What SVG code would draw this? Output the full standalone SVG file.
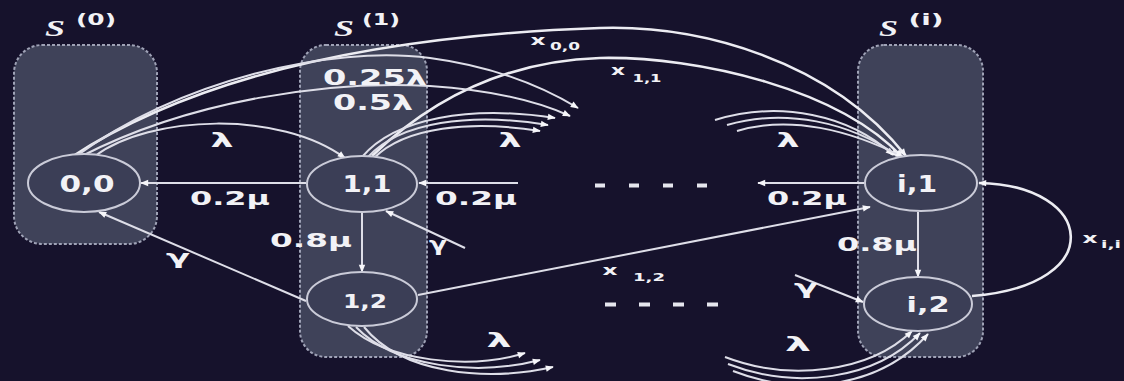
<svg xmlns="http://www.w3.org/2000/svg" width="1124" height="381" viewBox="0 0 1124 381">
<style>
.bg{fill:#16122c}
.box{fill:#3f4259;stroke:#9fa2b6;stroke-width:2;stroke-dasharray:3 2}
.nd{fill:#3b3e56;stroke:#cacbd8;stroke-width:2}
.e{fill:none;stroke:#dedee8;stroke-width:2;marker-end:url(#arr)}
.w{stroke-width:2.6;stroke:#ececf2}
.t{font-family:"DejaVu Sans","Liberation Sans",sans-serif;font-weight:bold;fill:#f2f2f6;text-anchor:middle}
.s{font-family:"Liberation Serif","DejaVu Serif",serif;font-style:italic;font-weight:bold;fill:#f2f2f6}
.dots{stroke:#e6e6ee;stroke-width:4}
</style>
<defs>
<marker id="arr" viewBox="0 0 10 10" refX="9" refY="5" markerWidth="11" markerHeight="8" markerUnits="userSpaceOnUse" orient="auto">
<path d="M0,1 L10,5 L0,9 z" fill="#f6f6fa"/>
</marker>
</defs>
<rect class="bg" x="0" y="0" width="1124" height="381"/>

<g id="set-S0">
<rect class="box" x="14" y="45" width="143" height="199" rx="28" ry="28"/>
<text class="s" x="45" y="36" font-size="23" textLength="20" lengthAdjust="spacingAndGlyphs">S</text>
<text class="t" x="96" y="25" font-size="15" textLength="40" lengthAdjust="spacingAndGlyphs">(0)</text>
</g>
<g id="set-S1">
<rect class="box" x="300" y="45" width="127" height="312" rx="26" ry="26"/>
<text class="s" x="334" y="36" font-size="23" textLength="20" lengthAdjust="spacingAndGlyphs">S</text>
<text class="t" x="381" y="25" font-size="15" textLength="38" lengthAdjust="spacingAndGlyphs">(1)</text>
</g>
<g id="set-Si">
<rect class="box" x="858" y="45" width="125" height="312" rx="26" ry="26"/>
<text class="s" x="879" y="36" font-size="23" textLength="19" lengthAdjust="spacingAndGlyphs">S</text>
<text class="t" x="926" y="25" font-size="15" textLength="35" lengthAdjust="spacingAndGlyphs">(i)</text>
</g>

<g id="connectors">
<path class="e w" d="M70,158 Q250,40 600,28 C700,25 830,60 906,156"/>
<path class="e w" d="M372,156 Q470,62 600,58 C700,56 840,90 902,157"/>
<path class="e" d="M75,157 C180,80 330,45 430,58 C490,66 540,85 578,108"/>
<path class="e" d="M80,157 C190,100 330,80 430,86 C490,90 535,100 570,116"/>
<path class="e" d="M95,156 C150,115 280,110 345,158"/>
<path class="e" d="M362,157 C395,118 470,105 555,118"/>
<path class="e" d="M368,157 C400,122 470,112 548,125"/>
<path class="e" d="M374,158 C405,127 470,120 540,131"/>
<path class="e" d="M715,120 C780,100 850,115 893,155"/>
<path class="e" d="M727,125 C785,108 850,122 898,156"/>
<path class="e" d="M737,131 C790,115 850,130 903,157"/>
<path class="e" d="M306,183 L141,183"/>
<path class="e" d="M518,183 L419,183"/>
<path class="e" d="M864,183 L758,183"/>
<path class="e" d="M362,212 L362,272"/>
<path class="e" d="M918,212 L918,277"/>
<path class="e" d="M306,301 L99,212"/>
<path class="e" d="M465,248 L386,211"/>
<path class="e" d="M795,275 L863,302"/>
<path class="e" d="M418,295 L870,207"/>
<path class="e w" d="M972,296 C1110,285 1095,185 979,183"/>
<path class="e" d="M348,326 C388,362 470,370 525,353"/>
<path class="e" d="M356,327 C395,368 478,376 540,360"/>
<path class="e" d="M364,327 C402,374 486,382 553,367"/>
<path class="e" d="M725,357 C790,382 870,372 912,331"/>
<path class="e" d="M728,364 C795,390 875,380 920,333"/>
<path class="e" d="M733,371 C800,397 880,388 928,334"/>
</g>

<g id="labels">
<text class="t" x="230" y="205" font-size="20" textLength="80" lengthAdjust="spacingAndGlyphs">0.2μ</text>
<text class="t" x="476" y="205" font-size="20" textLength="82" lengthAdjust="spacingAndGlyphs">0.2μ</text>
<text class="t" x="807" y="205" font-size="20" textLength="80" lengthAdjust="spacingAndGlyphs">0.2μ</text>
<text class="t" x="311" y="247" font-size="20" textLength="82" lengthAdjust="spacingAndGlyphs">0.8μ</text>
<text class="t" x="877" y="251" font-size="20" textLength="80" lengthAdjust="spacingAndGlyphs">0.8μ</text>
<text class="t" x="375" y="85" font-size="21" textLength="104" lengthAdjust="spacingAndGlyphs">0.25λ</text>
<text class="t" x="373" y="110" font-size="21" textLength="80" lengthAdjust="spacingAndGlyphs">0.5λ</text>
<text class="t" x="222" y="147" font-size="20" textLength="23" lengthAdjust="spacingAndGlyphs">λ</text>
<text class="t" x="510" y="147" font-size="20" textLength="23" lengthAdjust="spacingAndGlyphs">λ</text>
<text class="t" x="788" y="147" font-size="20" textLength="23" lengthAdjust="spacingAndGlyphs">λ</text>
<text class="t" x="499" y="347" font-size="20" textLength="25" lengthAdjust="spacingAndGlyphs">λ</text>
<text class="t" x="798" y="351" font-size="20" textLength="26" lengthAdjust="spacingAndGlyphs">λ</text>
<text class="t" x="178" y="264" font-size="20" textLength="24" lengthAdjust="spacingAndGlyphs">γ</text>
<text class="t" x="438" y="251" font-size="19" textLength="18" lengthAdjust="spacingAndGlyphs">γ</text>
<text class="t" x="806" y="294" font-size="20" textLength="24" lengthAdjust="spacingAndGlyphs">γ</text>
<text class="t" x="538" y="45" font-size="14" textLength="15" lengthAdjust="spacingAndGlyphs">x</text>
<text class="t" x="565" y="50" font-size="11" textLength="30" lengthAdjust="spacingAndGlyphs">0,0</text>
<text class="t" x="618" y="75" font-size="14" textLength="14" lengthAdjust="spacingAndGlyphs">x</text>
<text class="t" x="647" y="82" font-size="11" textLength="29" lengthAdjust="spacingAndGlyphs">1,1</text>
<text class="t" x="610" y="275" font-size="14" textLength="15" lengthAdjust="spacingAndGlyphs">x</text>
<text class="t" x="649" y="281" font-size="11" textLength="32" lengthAdjust="spacingAndGlyphs">1,2</text>
<text class="t" x="1090" y="243" font-size="14" textLength="15" lengthAdjust="spacingAndGlyphs">x</text>
<text class="t" x="1111" y="248" font-size="11" textLength="20" lengthAdjust="spacingAndGlyphs">i,i</text>
<line class="dots" x1="595" y1="185.5" x2="708" y2="185.5" stroke-dasharray="10 24"/>
<line class="dots" x1="605" y1="304.5" x2="718" y2="304.5" stroke-dasharray="11 23"/>
</g>

<g id="node-0-0">
<ellipse class="nd" cx="84" cy="183" rx="56" ry="29"/>
<text class="t" x="87" y="192" font-size="23" textLength="55" lengthAdjust="spacingAndGlyphs">0,0</text>
</g>
<g id="node-1-1">
<ellipse class="nd" cx="362" cy="184" rx="55" ry="28"/>
<text class="t" x="367" y="192" font-size="23" textLength="49" lengthAdjust="spacingAndGlyphs">1,1</text>
</g>
<g id="node-1-2">
<ellipse class="nd" cx="362" cy="299" rx="55" ry="27"/>
<text class="t" x="365" y="308" font-size="19" textLength="44" lengthAdjust="spacingAndGlyphs">1,2</text>
</g>
<g id="node-i-1">
<ellipse class="nd" cx="921" cy="183" rx="56" ry="28"/>
<text class="t" x="917" y="192" font-size="23" textLength="40" lengthAdjust="spacingAndGlyphs">i,1</text>
</g>
<g id="node-i-2">
<ellipse class="nd" cx="918" cy="304" rx="54" ry="27"/>
<text class="t" x="928" y="312" font-size="22" textLength="43" lengthAdjust="spacingAndGlyphs">i,2</text>
</g>
</svg>
